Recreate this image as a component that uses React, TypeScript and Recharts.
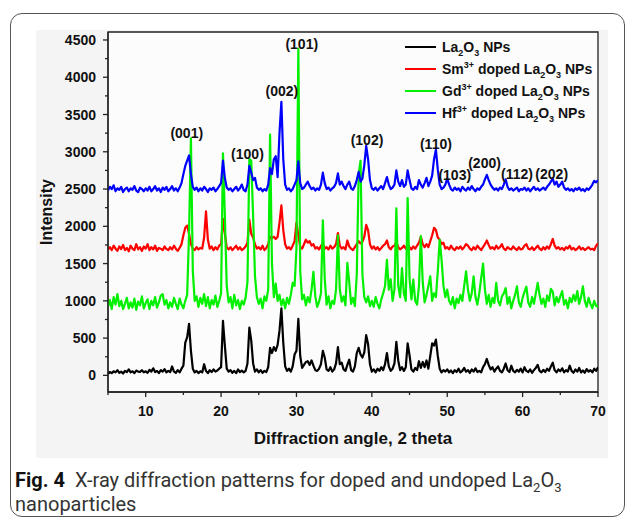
import React from "react";
import {
  LineChart, Line, XAxis, YAxis, CartesianGrid, Legend,
  ReferenceArea, ReferenceDot,
} from "recharts";

// diffractometer scan: 5° → 70° (2θ) in 0.25° steps, one row = 5°
const ANGLE_START = 5;
const ANGLE_STEP = 0.25;

const LA2O3 = [
  20, 45, 30, 55, 40, 70, 35, 50, 25, 60, 45, 80, 40, 55, 30, 65, 50, 45, 70, 40,
  55, 35, 75, 50, 95, 45, 60, 30, 70, 50, 85, 40, 60, 45, 120, 50, 35, 70, 40, 90,
  130, 440, 510, 690, 330, 90, 40, 60, 30, 55, 40, 150, 60, 30, 70, 45, 80, 50, 65, 90,
  110, 730, 400, 90, 50, 70, 35, 60, 30, 80, 45, 65, 40, 60, 160, 640, 470, 160, 50, 80,
  40, 70, 35, 60, 45, 110, 370, 300, 380, 330, 410, 600, 900, 440, 120, 60, 90, 50, 120, 280,
  330, 760, 260, 100, 140, 180, 190, 140, 200, 130, 70, 60, 90, 150, 330, 240, 80, 60, 110, 50,
  80, 160, 380, 150, 170, 80, 60, 140, 210, 70, 50, 120, 300, 370, 280, 240, 310, 540, 420, 150,
  50, 80, 40, 90, 60, 110, 70, 150, 300, 120, 60, 90, 160, 450, 200, 70, 110, 60, 110, 430,
  270, 80, 50, 100, 70, 190, 100, 180, 110, 200, 90, 260, 430, 400, 480, 260, 90, 40, 70, 50,
  80, 40, 65, 30, 70, 45, 90, 40, 60, 100, 50, 70, 35, 80, 50, 95, 45, 60, 40, 110,
  150, 220, 140, 80, 110, 50, 90, 120, 60, 40, 90, 160, 70, 45, 130, 60, 40, 75, 50, 90,
  40, 110, 60, 45, 80, 35, 70, 100, 140, 60, 40, 75, 45, 90, 60, 120, 170, 70, 40, 80,
  55, 95, 40, 70, 50, 130, 60, 35, 80, 50, 100, 40, 65, 35, 85, 50, 70, 40, 90, 60,
  110,
];

const SM_DOPED = [
  1690, 1720, 1680, 1740, 1700, 1670, 1730, 1695, 1750, 1680, 1710, 1665, 1740, 1700, 1680, 1760, 1690, 1720, 1670, 1730,
  1700, 1760, 1680, 1720, 1690, 1740, 1670, 1710, 1700, 1680, 1730, 1695, 1680, 1720, 1690, 1740, 1700, 1670, 1710, 1760,
  1880, 1980, 2010, 1900, 1760, 1700, 1680, 1720, 1690, 1710, 1700, 1850, 2200, 1820, 1700, 1730, 1680, 1720, 1690, 1740,
  1760, 2100, 1900, 1720, 1690, 1720, 1680, 1710, 1740, 1690, 1720, 1680, 1700, 1730, 1780, 2090, 1900, 1850, 1760, 1700,
  1720, 1690, 1740, 1680, 1710, 1760, 1860, 1840, 1860, 1830, 1860, 2050, 2280, 1950, 1760, 1700, 1720, 1690, 1740, 1800,
  2050, 1880, 1720, 1700, 1760, 1820, 1780, 1800, 1740, 1760, 1700, 1720, 1690, 1740, 1760, 1700, 1720, 1690, 1740, 1700,
  1720, 1760, 1910, 1740, 1700, 1720, 1690, 1810, 1730, 1700, 1680, 1720, 1760, 1800, 1770, 1790, 1860, 2020, 1950, 1760,
  1700, 1730, 1690, 1720, 1680, 1710, 1740, 1760, 1810, 1720, 1690, 1730, 1740, 1790, 1720, 1690, 1710, 1740, 1700, 1750,
  1720, 1690, 1730, 1700, 1740, 1780, 1860, 1760, 1720, 1760, 1720, 1800, 1880, 1980, 1950, 1850, 1820, 1760, 1780, 1700,
  1720, 1690, 1740, 1700, 1680, 1720, 1700, 1730, 1690, 1720, 1760, 1740, 1700, 1680, 1720, 1690, 1740, 1710, 1680, 1720,
  1760, 1810, 1750, 1700, 1720, 1690, 1740, 1700, 1720, 1760, 1700, 1680, 1720, 1700, 1690, 1730, 1700, 1680, 1720, 1690,
  1700, 1740, 1760, 1700, 1690, 1720, 1680, 1710, 1740, 1700, 1680, 1720, 1690, 1730, 1700, 1760, 1830, 1740, 1700, 1720,
  1690, 1710, 1680, 1720, 1700, 1740, 1690, 1710, 1680, 1700, 1730, 1690, 1710, 1680, 1700, 1720, 1690, 1700, 1680, 1740,
  1770,
];

const GD_DOPED = [
  920, 1010, 890, 1050, 950, 1090, 930, 1000, 890, 960, 1040, 900, 980, 910, 1030, 880, 990, 940, 1060, 900,
  970, 1020, 890, 1000, 940, 1050, 910, 980, 1070, 1090, 950, 1010, 900, 980, 920, 1040, 960, 890, 1030, 950,
  900, 1000, 1080, 1900, 3180, 1400, 1000, 1060, 920, 1040, 960, 1090, 930, 1050, 900, 1010, 950, 1070, 920, 1000,
  1100, 2980, 2150, 1200, 980, 1050, 900, 1080, 940, 1010, 890, 1000, 950, 1040, 1250, 2900, 2880, 2140, 1330, 1050,
  960, 1030, 900, 1060, 1000, 1150, 3230, 1500, 1050, 1230, 1000, 1080, 940, 1020, 900, 1040, 960, 1080, 1240, 1200,
  1700, 4380, 1400, 1020, 1080, 940, 1050, 980, 1150, 1390, 1060, 920, 990, 1100, 2080, 1300, 950, 1060, 900, 1000,
  960, 1150, 1880, 1150, 990, 1060, 940, 1510, 1250, 960, 1040, 930, 1350, 2700, 2880, 1350, 1050, 980, 1060, 930,
  1000, 920, 1050, 960, 900, 1020, 1100, 1200, 1550, 1150, 1290, 1000, 1150, 2240, 1200, 1050, 1440, 1100, 1000, 2380,
  1300, 1020, 1285, 1000, 950, 1200, 1870, 1250, 980, 1080, 1200, 1330, 1000, 1100, 1050, 1400, 1820, 1550, 1200, 1050,
  1150, 1000, 950, 1050, 900, 1030, 970, 1080, 1000, 1200, 1395, 1150, 1000, 1100, 1330, 1050, 950, 1100, 1300, 1500,
  1150, 960, 1080, 920, 1040, 970, 1240, 1000, 940, 1060, 1100, 1170, 960, 1050, 900, 1000, 1080, 1195, 980, 920,
  1040, 1120, 1190, 980, 920, 1050, 960, 1100, 1240, 1080, 960, 1030, 920, 1070, 1000, 1160, 1120, 940, 1050, 980,
  1060, 1130, 950, 1010, 900, 1040, 980, 1080, 1000, 1130, 960, 1050, 1195, 1000, 920, 1040, 960, 900, 1000, 930,
  920,
];

const HF_DOPED = [
  2480, 2530, 2500, 2550, 2470, 2510, 2490, 2530, 2460, 2500, 2520, 2470, 2510, 2490, 2540, 2480, 2460, 2520, 2500, 2470,
  2510, 2480, 2530, 2470, 2500, 2540, 2480, 2510, 2460, 2520, 2490, 2530, 2470, 2500, 2540, 2480, 2510, 2470, 2520, 2580,
  2700, 2810, 2880, 2950, 2700, 2530, 2490, 2520, 2470, 2510, 2480, 2530, 2500, 2460, 2510, 2490, 2520, 2470, 2500, 2540,
  2580, 2880, 2650, 2520, 2490, 2510, 2470, 2500, 2530, 2480, 2510, 2560, 2490, 2470, 2560, 2810, 2720, 2620, 2650, 2520,
  2490, 2510, 2470, 2500, 2480, 2560, 2780, 2700, 2900, 2940, 2660, 3250, 3670, 2900, 2560, 2490, 2510, 2470, 2500, 2560,
  2620, 2870, 2580, 2500, 2520, 2560, 2600, 2540, 2500, 2520, 2480, 2510, 2490, 2560, 2720, 2580, 2500, 2520, 2480, 2510,
  2530, 2580, 2710, 2560, 2600, 2540, 2500, 2560, 2600, 2510, 2490, 2540, 2620, 2730, 2600, 2640, 2820, 3080, 2900, 2620,
  2510, 2490, 2520, 2480, 2510, 2540, 2500, 2580, 2660, 2560, 2500, 2520, 2560, 2750, 2600, 2540, 2620, 2530, 2560, 2750,
  2620, 2510, 2490, 2530, 2500, 2620, 2560, 2520, 2580, 2650, 2540, 2600, 2680, 2900, 3030, 2760, 2560, 2500, 2520, 2560,
  2640, 2560, 2500, 2480, 2520, 2490, 2510, 2470, 2530, 2500, 2480, 2520, 2490, 2540, 2500, 2470, 2510, 2490, 2530, 2560,
  2630, 2690, 2620, 2560, 2520, 2490, 2510, 2480, 2520, 2500, 2560, 2630, 2530, 2490, 2510, 2480, 2500, 2520, 2470, 2500,
  2490, 2520, 2480, 2510, 2470, 2500, 2530, 2490, 2510, 2480, 2500, 2520, 2490, 2530, 2560, 2600, 2640, 2560, 2600, 2530,
  2560, 2600, 2520, 2490, 2510, 2480, 2500, 2470, 2510, 2490, 2520, 2480, 2500, 2470, 2510, 2490, 2520, 2560, 2610, 2590,
  2620,
];

const SERIES_KEYS = ["la", "sm", "gd", "hf"];
const SERIES_COLORS = ["#000000", "#ff0000", "#00f000", "#0000ff"];
const SERIES_DOPANTS = ["", "Sm", "Gd", "Hf"];

const X_TICKS = [5, 10, 15, 20, 25, 30, 35, 40, 45, 50, 55, 60, 65, 70];
const Y_TICKS = [0, 250, 500, 750, 1000, 1250, 1500, 1750, 2000, 2250, 2500, 2750, 3000, 3250, 3500, 3750, 4000, 4250, 4500];

// Miller-index annotations (label centre in data units)
const PEAK_HKL = ["(001)", "(100)", "(002)", "(101)", "(102)", "(110)", "(103)", "(200)", "(112)", "(202)"];
const PEAK_ANGLE = [15.45, 23.5, 28.07, 30.7, 39.36, 48.5, 51.0, 54.95, 59.25, 63.86];
const PEAK_HEIGHT = [3256, 2975, 3820, 4450, 3163, 3109, 2693, 2850, 2700, 2706];

const data = LA2O3.map((v, i) => ({
  angle: ANGLE_START + i * ANGLE_STEP,
  la: v,
  sm: SM_DOPED[i],
  gd: GD_DOPED[i],
  hf: HF_DOPED[i],
}));

const FONT = "'Liberation Sans', Arial, sans-serif";
const AXIS = "#222";

const XTick = (props: any) => {
  const { x, y, payload } = props;
  const major = payload.value % 10 === 0;
  return (
    <g>
      <line x1={x} x2={x} y1={y} y2={y + (major ? 5 : 3)} stroke={AXIS} strokeWidth={1.3} />
      {major && (
        <text x={x} y={y + 19} dy="0.36em" textAnchor="middle" fontFamily={FONT} fontWeight={700} fontSize={14} fill="#111">
          {payload.value}
        </text>
      )}
    </g>
  );
};

const YTick = (props: any) => {
  const { x, y, payload } = props;
  const major = payload.value % 500 === 0;
  return (
    <g>
      <line x1={x} x2={x - (major ? 5 : 3)} y1={y} y2={y} stroke={AXIS} strokeWidth={1.3} />
      {major && (
        <text x={x - 12} y={y} dy="0.36em" textAnchor="end" fontFamily={FONT} fontWeight={700} fontSize={14} fill="#111">
          {payload.value}
        </text>
      )}
    </g>
  );
};

const subStyle: React.CSSProperties = { fontSize: 9, position: "relative", top: 4, verticalAlign: "baseline" };
const supStyle: React.CSSProperties = { fontSize: 9, position: "relative", top: -6, verticalAlign: "baseline" };

function SeriesLegend() {
  return (
    <div style={{ fontFamily: FONT, fontWeight: 700, fontSize: 14, color: "#111" }}>
      {SERIES_KEYS.map((k, i) => (
        <div key={k} style={{ display: "flex", alignItems: "center", height: 22, whiteSpace: "nowrap" }}>
          <span style={{ display: "inline-block", width: 31, height: 2, background: SERIES_COLORS[i], marginRight: 6 }} />
          <span>
            {SERIES_DOPANTS[i] && (
              <>
                {SERIES_DOPANTS[i]}
                <span style={supStyle}>3+</span> doped{" "}
              </>
            )}
            La<span style={subStyle}>2</span>O<span style={subStyle}>3</span> NPs
          </span>
        </div>
      ))}
    </div>
  );
}

export default function App() {
  return (
    <div style={{ position: "absolute", left: 0, top: 0, width: 629, height: 519, background: "#fff", overflow: "hidden" }}>
      <div
        style={{
          position: "absolute", left: 10, top: 13, width: 615, height: 504,
          border: "1.5px solid #555", borderRadius: 12, boxSizing: "border-box",
        }}
      />
      <div style={{ position: "absolute", left: 36, top: 30, width: 572, height: 428, background: "#f4f4f4" }} />
      <div style={{ position: "absolute", left: 0, top: 0 }}>
        <LineChart width={629} height={519} data={data} margin={{ top: 32, right: 31, bottom: 67, left: 28 }}>
          <CartesianGrid horizontal={false} vertical={false} fill="#fcfcfc" />
          <XAxis
            dataKey="angle"
            type="number"
            domain={[5, 70]}
            ticks={X_TICKS}
            interval={0}
            allowDataOverflow
            height={60}
            tickSize={0}
            tickMargin={0}
            tickLine={false}
            tick={<XTick />}
            axisLine={{ stroke: AXIS, strokeWidth: 1.3 }}
            label={{
              value: "Diffraction angle, 2 theta", position: "insideBottom", offset: 8,
              fill: "#111", fontSize: 17, fontWeight: 700, fontFamily: FONT,
            }}
          />
          <YAxis
            type="number"
            domain={[-223, 4607]}
            ticks={Y_TICKS}
            interval={0}
            allowDataOverflow
            width={80}
            tickSize={0}
            tickMargin={0}
            tickLine={false}
            tick={<YTick />}
            axisLine={{ stroke: AXIS, strokeWidth: 1.3 }}
            label={{
              value: "Intensity", angle: -90, position: "insideLeft", offset: 18, textAnchor: "middle",
              fill: "#111", fontSize: 16, fontWeight: 700, fontFamily: FONT,
            }}
          />
          {SERIES_KEYS.map((k, i) => (
            <Line
              key={k}
              dataKey={k}
              type="linear"
              stroke={SERIES_COLORS[i]}
              strokeWidth={2.2}
              strokeLinejoin="round"
              dot={false}
              activeDot={false}
              isAnimationActive={false}
            />
          ))}
          <ReferenceArea x1={5} x2={70} y1={-223} y2={4607} fill="none" stroke={AXIS} strokeWidth={1.3} />
          {PEAK_HKL.map((hkl, i) => (
            <ReferenceDot
              key={hkl}
              x={PEAK_ANGLE[i]}
              y={PEAK_HEIGHT[i]}
              r={1}
              fill="none"
              stroke="none"
              label={{ value: hkl, position: "center", fill: "#111", fontSize: 14, fontWeight: 700, fontFamily: FONT }}
            />
          ))}
          <Legend
            layout="vertical"
            align="center"
            verticalAlign="middle"
            wrapperStyle={{ left: 405, top: 36 }}
            content={() => <SeriesLegend />}
          />
        </LineChart>
      </div>
      <div
        style={{
          position: "absolute", left: 15, top: 468, whiteSpace: "nowrap",
          fontFamily: "Roboto, 'Open Sans', sans-serif", fontSize: 20, lineHeight: "24px", color: "#333",
        }}
      >
        <b style={{ color: "#111" }}>Fig. 4</b>&nbsp; X-ray diffraction patterns for doped and undoped La
        <sub style={{ fontSize: 13, lineHeight: 0 }}>2</sub>O<sub style={{ fontSize: 13, lineHeight: 0 }}>3</sub>
        <br />
        nanoparticles
      </div>
    </div>
  );
}
